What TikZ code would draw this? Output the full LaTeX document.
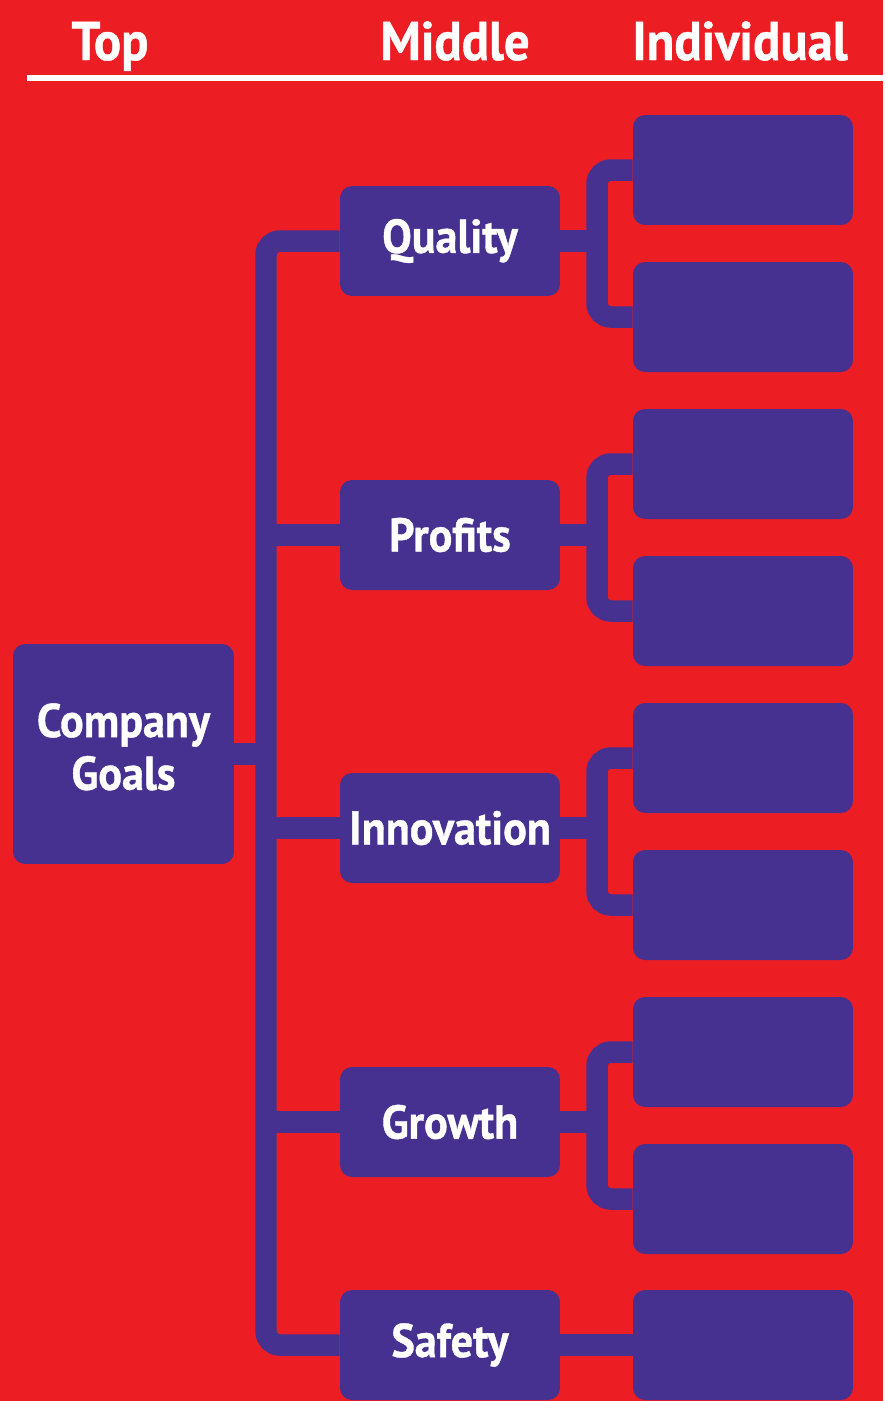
\documentclass[tikz,border=0pt]{standalone}
\usepackage{fontspec}
\newfontfamily\boxfont{PT Sans}[FakeStretch=0.93, FakeBold=0.8]
\definecolor{bgred}{RGB}{237,29,36}
\definecolor{boxblue}{RGB}{70,49,145}
\tikzset{
  box/.style={fill=boxblue, rounded corners=0.24cm, minimum width=4.4cm,
    minimum height=2.2cm, inner sep=0pt, text=white,
    font=\boxfont\bfseries\fontsize{27}{30}\selectfont},
  head/.style={text=white, anchor=base, inner sep=0pt,
    font=\boxfont\bfseries\fontsize{31}{36}\selectfont},
  link/.style={draw=boxblue, line width=0.43cm, rounded corners=0.28cm},
}

\begin{document}
\begin{tikzpicture}[x=0.02cm, y=-0.02cm]
    \fill[bgred] (0,0) rectangle (883,1401);

    \node[head] (top) at (110,60) {Top};
    \node[head] (middle) at (455,60) {Middle};
    \node[head] (indiv) at (740,60) {Individual};
    \coordinate (rulel) at (27,78);
    \coordinate (ruler) at (883,78);
    \draw[white, line width=0.12cm] (rulel) -- (ruler);

    \node[box, minimum width=4.42cm, minimum height=4.4cm, align=center,
        text depth=0.3cm] (goals) at (123.5,754) {Company\\Goals};

    \node[box] (q) at (450,241) {Quality};
    \node[box] (p) at (450,535) {Profits};
    \node[box] (i) at (450,828) {Innovation};
    \node[box] (g) at (450,1122) {Growth};
    \node[box] (s) at (450,1345) {Safety};

    \node[box] (q1) at (743,170) {};
    \node[box] (q2) at (743,317) {};
    \node[box] (p1) at (743,464) {};
    \node[box] (p2) at (743,611) {};
    \node[box] (i1) at (743,758) {};
    \node[box] (i2) at (743,905) {};
    \node[box] (g1) at (743,1052) {};
    \node[box] (g2) at (743,1199) {};
    \node[box] (s1) at (743,1345) {};

    \coordinate (trunk) at (266,754);
    \coordinate (fork) at (597,0);
    \draw[link] (q.west) -| (trunk) |- (s.west);
    \draw[link] (goals.east) -- (trunk);
    \foreach \m in {p,i,g}
        \draw[link] (\m.west) -- (\m.west -| trunk);
    \foreach \m in {q,p,i,g} {
        \draw[link] (\m1.west) -| (\m.east -| fork) |- (\m2.west);
        \draw[link] (\m.east) -- (\m.east -| fork);
    }
    \draw[link] (s.east) -- (s1.west);
\end{tikzpicture}
\end{document}
